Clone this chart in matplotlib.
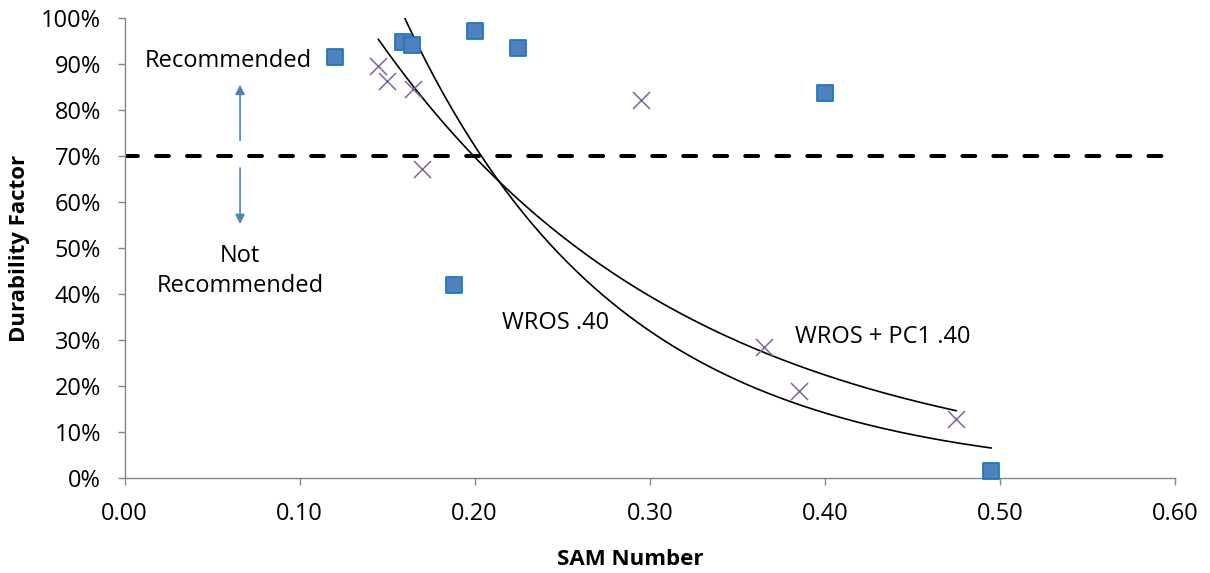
import numpy as np
import matplotlib
matplotlib.use("Agg")
import matplotlib.pyplot as plt
from matplotlib.ticker import PercentFormatter, FixedLocator

# ---- data ----
wros_x = [0.120, 0.159, 0.164, 0.188, 0.200, 0.225, 0.400, 0.495]
wros_y = [0.915, 0.948, 0.941, 0.419, 0.971, 0.935, 0.838, 0.016]
pc1_x = [0.145, 0.150, 0.165, 0.170, 0.295, 0.365, 0.385, 0.475]
pc1_y = [0.896, 0.863, 0.846, 0.671, 0.822, 0.284, 0.190, 0.128]
# exponential trendline coefficients y = a * exp(b * x)
wros_trend = [3.685, -8.15]
pc1_trend = [2.173, -5.68]
threshold = 0.70
x_ticks = [0.0, 0.1, 0.2, 0.3, 0.4, 0.5, 0.6]
y_ticks = [0.0, 0.1, 0.2, 0.3, 0.4, 0.5, 0.6, 0.7, 0.8, 0.9, 1.0]
labels = {"wros": "WROS .40", "pc1": "WROS + PC1 .40",
          "rec": "Recommended", "notrec": "Not\nRecommended"}

plt.rcParams['font.family'] = ['Open Sans', 'DejaVu Sans']

FS = 17
fig = plt.figure(figsize=(12.1, 5.73), dpi=100)
ax = fig.add_axes([124.5/1210, 95/573, (1175-124.5)/1210, (478-18)/573])

ax.set_xlim(0, 0.6)
ax.set_ylim(0, 1.0)

# threshold line
ax.axhline(threshold, color='black', lw=2.9, ls=(0, (3.2, 4.5)), dash_capstyle='round', zorder=2)

# trendlines
for xs, (a, b) in ((wros_x, wros_trend), (pc1_x, pc1_trend)):
    xx = np.linspace(min(xs), max(xs), 300)
    ax.plot(xx, a*np.exp(b*xx), color='black', lw=1.2, zorder=3)

ax.scatter(wros_x, wros_y, marker='s', s=135, facecolor='#4F81BD', edgecolor='#1F78C8',
           linewidth=1.3, zorder=4, clip_on=False)
ax.scatter(pc1_x, pc1_y, marker='x', s=150, color='#8064A2', linewidth=1.1, zorder=4)

# annotations
ax.text(0.0591, 0.9065, labels["rec"], ha='center', va='center', fontsize=FS)
ax.text(0.066, 0.45, labels["notrec"], ha='center', va='center', fontsize=FS, linespacing=1.3)
ax.annotate('', xy=(0.066, 0.861), xytext=(0.066, 0.728),
            arrowprops=dict(arrowstyle='-|>', color='#4F81BD', lw=1.2, mutation_scale=14))
ax.annotate('', xy=(0.066, 0.546), xytext=(0.066, 0.680),
            arrowprops=dict(arrowstyle='-|>', color='#4F81BD', lw=1.2, mutation_scale=14))
ax.text(0.2464, 0.337, labels["wros"], ha='center', va='center', fontsize=FS)
ax.text(0.383, 0.3065, labels["pc1"], ha='left', va='center', fontsize=FS)

# axes styling
for s in ('top', 'right'):
    ax.spines[s].set_visible(False)
for s in ('left', 'bottom'):
    ax.spines[s].set_color('#868686')
    ax.spines[s].set_linewidth(1.0)
ax.xaxis.set_major_locator(FixedLocator(x_ticks))
ax.yaxis.set_major_locator(FixedLocator(y_ticks))
ax.set_xticklabels([f"{v:.2f}" for v in x_ticks])
ax.yaxis.set_major_formatter(PercentFormatter(1.0, decimals=0))
ax.tick_params(axis='both', direction='out', length=5, width=1, color='#868686',
               labelsize=FS)
ax.tick_params(axis='x', pad=12)
ax.tick_params(axis='y', pad=12)
ax.set_xlabel('SAM Number', fontsize=16, fontweight='bold', labelpad=19)
ax.xaxis.set_label_coords(0.481, -0.155)
ax.set_ylabel('Durability Factor', fontsize=16, fontweight='bold', labelpad=8)

fig.savefig('out.png', dpi=100)
